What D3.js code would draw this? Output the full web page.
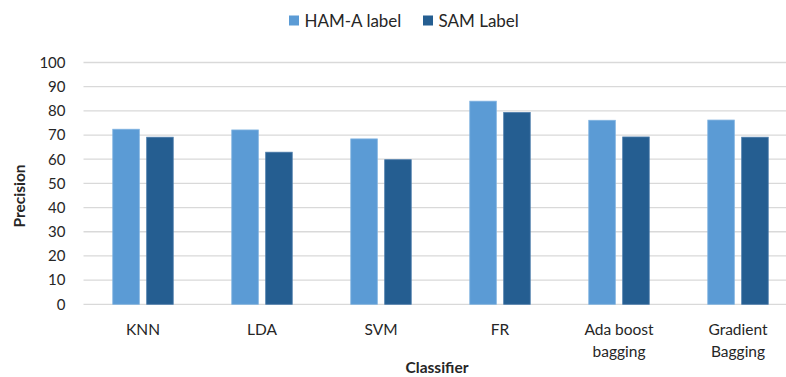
<!DOCTYPE html>
<html>
<head>
<meta charset="utf-8">
<script src="https://cdn.jsdelivr.net/npm/d3@7/dist/d3.min.js"></script>
<style>
  html, body { margin: 0; padding: 0; background: #fff; }
  svg { display: block; font-family: Lato, "Open Sans", sans-serif; }
</style>
</head>
<body>
<svg id="chart" width="786" height="377"></svg>
<script>
// Classifier precision for the two labelling schemes
const categories = [["KNN"], ["LDA"], ["SVM"], ["FR"], ["Ada boost", "bagging"], ["Gradient", "Bagging"]];
const seriesNames = ["HAM-A label", "SAM Label"];
const hamValues = [72.4, 72.1, 68.4, 84.0, 76.1, 76.2];
const samValues = [69.1, 62.9, 59.8, 79.3, 69.2, 69.1];
const yTicks = [0, 10, 20, 30, 40, 50, 60, 70, 80, 90, 100];
const colors = ["#5B9BD5", "#255E91"];
const strokeColors = ["#7FB2E0", "#4A7BAA"];

const svg = d3.select("#chart");
const W = 786, H = 377;
const margin = { left: 83.5, right: -11.5, top: 62.5, bottom: 72.7 };
const plotRight = W - margin.right;
const plotBottom = H - margin.bottom;

const keys = categories.map(c => c.join(" "));
const x = d3.scaleBand().domain(keys).range([margin.left, plotRight]);
const y = d3.scaleLinear().domain([0, 100]).range([plotBottom, margin.top]);

const bw = x.bandwidth();
const barW = bw * 0.223;
const gap = bw * 0.062;
const groupW = barW * 2 + gap;

// Gridlines
svg.append("g")
  .selectAll("line")
  .data(yTicks)
  .join("line")
  .attr("x1", margin.left)
  .attr("x2", W)
  .attr("y1", d => y(d))
  .attr("y2", d => y(d))
  .attr("stroke", "#D9D9D9")
  .attr("stroke-width", 1.3);

// Y axis labels
const yAxis = svg.append("g")
  .attr("transform", `translate(${margin.left},0)`)
  .call(d3.axisLeft(y).tickValues(yTicks).tickSize(0).tickPadding(18));
yAxis.select(".domain").remove();
yAxis.selectAll("text")
  .attr("font-family", "Lato, sans-serif")
  .attr("font-size", 15)
  .attr("fill", "#262626");

// Bars
const series = [hamValues, samValues];
series.forEach((vals, si) => {
  svg.append("g")
    .selectAll("rect")
    .data(vals)
    .join("rect")
    .attr("x", (d, i) => x(keys[i]) + bw / 2 - groupW / 2 + si * (barW + gap))
    .attr("y", d => y(d))
    .attr("width", barW)
    .attr("height", d => y(0) - y(d))
    .attr("fill", colors[si])
    .attr("stroke", strokeColors[si])
    .attr("stroke-width", 0.8);
});

// X axis labels
const xLabels = svg.append("g");
categories.forEach((lines, i) => {
  const t = xLabels.append("text")
    .attr("x", x(keys[i]) + bw / 2)
    .attr("y", 335)
    .attr("text-anchor", "middle")
    .attr("font-size", 15.5)
    .attr("fill", "#262626");
  lines.forEach((ln, j) => {
    t.append("tspan")
      .attr("x", x(keys[i]) + bw / 2)
      .attr("dy", j === 0 ? 0 : 21.7)
      .text(ln);
  });
});

// Axis titles
svg.append("text")
  .attr("x", 437)
  .attr("y", 373)
  .attr("text-anchor", "middle")
  .attr("font-size", 15.5)
  .attr("font-weight", "bold")
  .attr("fill", "#262626")
  .text("Classifier");

svg.append("text")
  .attr("transform", "translate(25,196) rotate(-90)")
  .attr("text-anchor", "middle")
  .attr("font-size", 15.5)
  .attr("font-weight", "bold")
  .attr("fill", "#262626")
  .text("Precision");

// Legend
const legendX = [289, 423];
seriesNames.forEach((name, i) => {
  svg.append("rect")
    .attr("x", legendX[i])
    .attr("y", 15.5)
    .attr("width", 10)
    .attr("height", 10)
    .attr("fill", colors[i]);
  svg.append("text")
    .attr("x", legendX[i] + 15.5)
    .attr("y", 26.7)
    .attr("font-size", 17)
    .attr("fill", "#262626")
    .text(name);
});
</script>
</body>
</html>
